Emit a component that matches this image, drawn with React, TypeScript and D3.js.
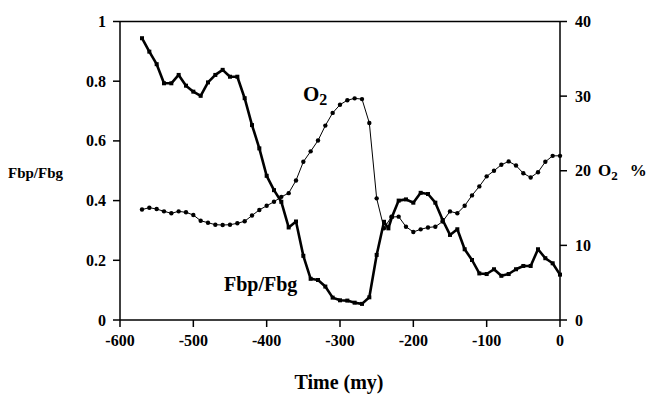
import React from "react";
import * as d3 from "d3";

const fbpTime = [-570,-560,-550,-540,-530,-520,-510,-500,-490,-480,-470,-460,-450,-440,-430,-420,-410,-400,-390,-380,-370,-360,-350,-340,-330,-320,-310,-300,-290,-280,-270,-260,-250,-240,-234,-229,-220,-210,-200,-190,-180,-170,-160,-150,-140,-130,-120,-110,-100,-90,-80,-70,-60,-50,-40,-30,-20,-10,0];
const fbpValue = [0.944,0.899,0.857,0.793,0.793,0.821,0.785,0.765,0.751,0.796,0.821,0.838,0.815,0.815,0.743,0.653,0.575,0.483,0.435,0.396,0.31,0.33,0.215,0.138,0.134,0.112,0.075,0.066,0.065,0.058,0.054,0.076,0.218,0.329,0.307,0.346,0.40,0.404,0.393,0.426,0.422,0.393,0.335,0.285,0.304,0.237,0.201,0.156,0.154,0.17,0.148,0.154,0.17,0.181,0.181,0.237,0.207,0.19,0.152];

const o2Time = [-570,-560,-550,-540,-530,-520,-510,-500,-490,-480,-470,-460,-450,-440,-430,-420,-410,-400,-390,-380,-370,-360,-350,-340,-330,-320,-310,-300,-290,-280,-270,-260,-250,-240,-230,-220,-210,-200,-190,-180,-170,-160,-150,-140,-130,-120,-110,-100,-90,-80,-70,-60,-50,-40,-30,-20,-10,0];
const o2Value = [14.8,15.05,14.87,14.56,14.3,14.56,14.43,14.07,13.3,13.04,12.77,12.73,12.77,12.96,13.23,14.0,14.75,15.3,15.85,16.5,17.0,18.7,21.2,22.6,24.05,26.05,27.75,28.85,29.45,29.7,29.6,26.4,16.3,12.3,13.8,13.85,12.5,11.8,12.15,12.4,12.5,13.2,14.55,14.3,15.3,16.7,17.9,19.25,20.0,20.8,21.25,20.7,19.66,19.1,19.8,21.2,22.0,22.0];

const xTicks = [-600,-500,-400,-300,-200,-100,0];
const leftTicks = [0,0.2,0.4,0.6,0.8,1];
const rightTicks = [0,10,20,30,40];

export default function App() {
  const W = 663, H = 408;
  const x0 = 120, x1 = 560, yTop = 21.5, yBot = 320;
  const x = d3.scaleLinear().domain([-600, 0]).range([x0, x1]);
  const yL = d3.scaleLinear().domain([0, 1]).range([yBot, yTop]);
  const yR = d3.scaleLinear().domain([0, 40]).range([yBot, yTop]);
  const fbp = fbpTime.map((t, i) => [t, fbpValue[i]] as [number, number]);
  const o2 = o2Time.map((t, i) => [t, o2Value[i]] as [number, number]);
  const lineF = d3.line<[number, number]>().x(d => x(d[0])).y(d => yL(d[1]));
  const lineO = d3.line<[number, number]>().x(d => x(d[0])).y(d => yR(d[1]));
  const ts: React.CSSProperties = { fontFamily: '"Liberation Serif", "Times New Roman", serif', fontWeight: 700 };
  const fmtL = (v: number) => (v === 0 ? "0" : v === 1 ? "1" : String(v));
  return (
    <svg width={W} height={H} style={{ position: "absolute", left: 0, top: 0, background: "#fff" }}>
      <rect x={0} y={0} width={W} height={H} fill="#fff" />
      <line x1={x0} y1={yTop} x2={x1} y2={yTop} stroke="#000" strokeWidth={1.5} />
      <line x1={x0} y1={yTop} x2={x0} y2={yBot} stroke="#000" strokeWidth={1.5} />
      <line x1={x1} y1={yTop} x2={x1} y2={yBot} stroke="#000" strokeWidth={1.5} />
      <line x1={x0} y1={yBot} x2={x1} y2={yBot} stroke="#000" strokeWidth={1.5} />
      {xTicks.map(t => (
        <g key={"x" + t}>
          <line x1={x(t)} x2={x(t)} y1={yBot} y2={yBot + 7} stroke="#000" strokeWidth={1.5} />
          <text x={x(t)} y={yBot + 26} textAnchor="middle" fontSize={16} style={ts}>{t}</text>
        </g>
      ))}
      {leftTicks.map(v => (
        <g key={"l" + v}>
          <line x1={x0 - 7} x2={x0} y1={yL(v)} y2={yL(v)} stroke="#000" strokeWidth={1.5} />
          <text x={x0 - 14} y={yL(v) + 5.5} textAnchor="end" fontSize={16} style={ts}>{fmtL(v)}</text>
        </g>
      ))}
      {rightTicks.map(v => (
        <g key={"r" + v}>
          <line x1={x1} x2={x1 + 7} y1={yR(v)} y2={yR(v)} stroke="#000" strokeWidth={1.5} />
          <text x={x1 + 15} y={yR(v) + 5.5} textAnchor="start" fontSize={16} style={ts}>{v}</text>
        </g>
      ))}
      <path d={lineO(o2) || ""} fill="none" stroke="#000" strokeWidth={1} />
      {o2.map((d, i) => (
        <circle key={"o" + i} cx={x(d[0])} cy={yR(d[1])} r={2.2} fill="#000" />
      ))}
      <path d={lineF(fbp) || ""} fill="none" stroke="#000" strokeWidth={2.6} strokeLinejoin="round" />
      {fbp.map((d, i) => (
        <rect key={"f" + i} x={x(d[0]) - 2} y={yL(d[1]) - 2} width={4} height={4} fill="#000" />
      ))}
      <text x={303} y={101} fontSize={21} style={ts}>O<tspan dy={4} fontSize={16}>2</tspan></text>
      <text x={224} y={291} fontSize={20} style={ts}>Fbp/Fbg</text>
      <text x={8} y={178} fontSize={15} style={ts}>Fbp/Fbg</text>
      <text x={598} y={176} fontSize={17} style={ts}>O<tspan dy={4} fontSize={13}>2</tspan><tspan dy={-4} dx={12}>%</tspan></text>
      <text x={339} y={389} textAnchor="middle" fontSize={20} style={ts}>Time (my)</text>
    </svg>
  );
}
